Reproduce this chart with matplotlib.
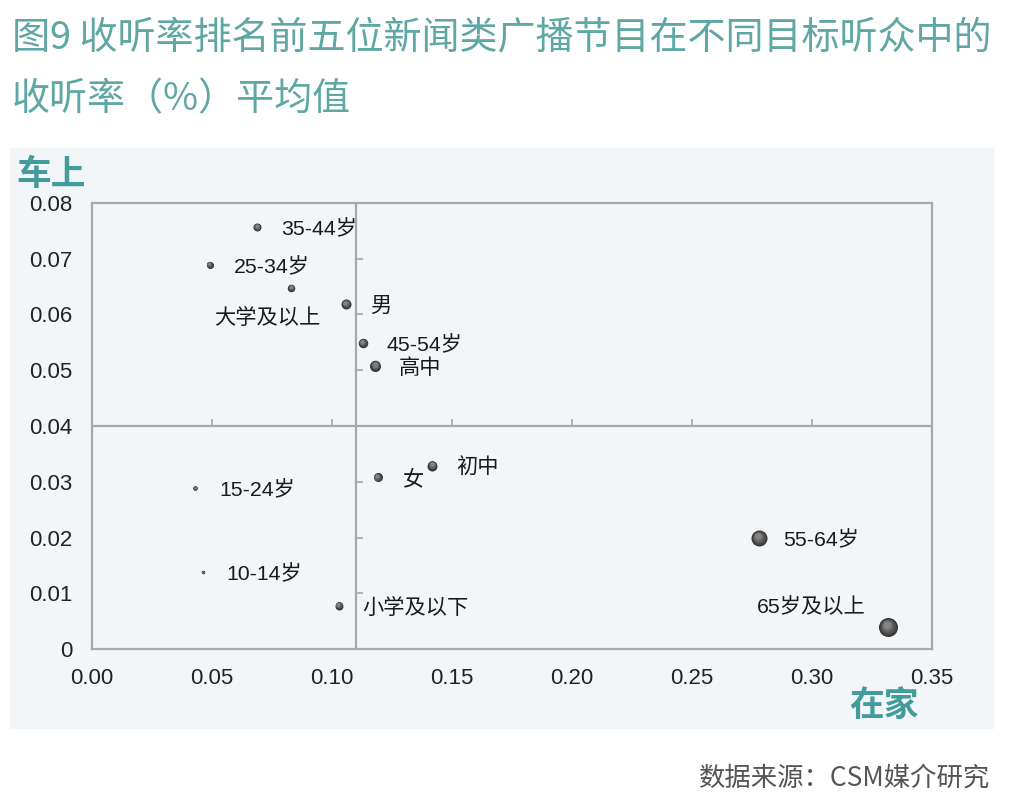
import numpy as np
import matplotlib.pyplot as plt
from matplotlib.patches import Rectangle
from matplotlib.transforms import offset_copy

plt.rcParams['font.family'] = ['Liberation Sans', 'Noto Sans CJK SC', 'DejaVu Sans']

# data
groups = ['35-44岁', '25-34岁', '大学及以上', '男', '45-54岁', '高中', '初中',
          '女', '15-24岁', '55-64岁', '10-14岁', '小学及以下', '65岁及以上']
home = [0.0688, 0.0490, 0.0829, 0.1058, 0.1128, 0.1180, 0.1418,
        0.1190, 0.0429, 0.2779, 0.0461, 0.1028, 0.3317]
car = [0.0757, 0.0689, 0.0648, 0.0619, 0.0549, 0.0508, 0.0329,
       0.0308, 0.0288, 0.0199, 0.0138, 0.0078, 0.0039]
bubble = [8, 7, 7.5, 10, 9.5, 11, 10, 9, 4.5, 16, 3.5, 8, 19]

xticks = [0.00, 0.05, 0.10, 0.15, 0.20, 0.25, 0.30, 0.35]
yticks = [0, 0.01, 0.02, 0.03, 0.04, 0.05, 0.06, 0.07, 0.08]
ylabels = ['0', '0.01', '0.02', '0.03', '0.04', '0.05', '0.06', '0.07', '0.08']
mid_x = 0.11
mid_y = 0.04

# label offsets in pixels (dx, dy, ha)
label_pos = {
    '大学及以上': (-24, -30, 'center'),
    '65岁及以上': (-22, 20, 'right'),
}

teal = '#5ea7a4'
teal_dark = '#429c9c'
panel = '#f3f6f9'
grey = '#a8a8a8'

fig = plt.figure(figsize=(10.12, 8.08), dpi=100)
fig.patches.append(Rectangle((10 / 1012, 80 / 808), 983 / 1012, 580 / 808,
                             transform=fig.transFigure, color=panel, zorder=-10))

ax = fig.add_axes([92 / 1012, 159 / 808, 840 / 1012, 446 / 808])
ax.set_zorder(1)
ax.set_facecolor(panel)
ax.set_xlim(0, 0.35)
ax.set_ylim(0, 0.08)
for s in ax.spines.values():
    s.set_color(grey)
    s.set_linewidth(1.6)

ax.set_xticks(xticks)
ax.set_xticklabels(['%.2f' % v for v in xticks])
ax.set_yticks(yticks)
ax.set_yticklabels(ylabels)
ax.tick_params(length=0, labelsize=16, labelcolor='#222222')
ax.tick_params(axis='y', pad=14)
ax.tick_params(axis='x', pad=14)

# quadrant lines with their own little ticks
ax.axvline(mid_x, color=grey, lw=1.6, zorder=1)
ax.axhline(mid_y, color=grey, lw=1.6, zorder=1)
ax.plot(xticks[1:-1], [mid_y] * len(xticks[1:-1]), ls='none', marker=2,
        ms=5, mew=1.2, color=grey, zorder=1)
ax.plot([mid_x] * len(yticks[1:-1]), yticks[1:-1], ls='none', marker=1,
        ms=5, mew=1.2, color=grey, zorder=1)

# shaded bubbles
layers = 6
for x, y, d in zip(home, car, bubble):
    for k in range(layers):
        f = 1 - k / layers * 0.75
        c = 0.20 + 0.32 * k / (layers - 1)
        off = (1 - f) * d * 0.22
        tr = offset_copy(ax.transData, fig=fig, x=-off * 0.4, y=off, units='dots')
        ax.scatter([x], [y], s=(d * f * 0.72) ** 2, color=(c, c, c),
                   linewidths=0, transform=tr, zorder=3 + k, clip_on=False)

for name, x, y in zip(groups, home, car):
    dx, dy, ha = label_pos.get(name, (24, -2, 'left'))
    ax.annotate(name, (x, y), xytext=(dx * 0.72, dy * 0.72),
                textcoords='offset points', ha=ha, va='center',
                fontsize=15.3, color='#1a1a1a', zorder=10)

# title, corner labels and source
fig.text(12 / 1012, 1 - 38 / 808, '图9 收听率排名前五位新闻类广播节目在不同目标听众中的',
         fontsize=27.4, color=teal, ha='left', va='center',
         family=['Noto Sans CJK SC', 'DejaVu Sans'], fontweight='light')
fig.text(12 / 1012, 1 - 100 / 808, '收听率（%）平均值',
         fontsize=27.4, color=teal, ha='left', va='center',
         family=['Noto Sans CJK SC', 'DejaVu Sans'], fontweight='light')
fig.text(51 / 1012, 1 - 175 / 808, '车上', fontsize=25, fontweight='bold',
         color=teal_dark, ha='center', va='center', family=['Noto Sans CJK SC'])
fig.text(884 / 1012, 1 - 705 / 808, '在家', fontsize=25, fontweight='bold',
         color=teal_dark, ha='center', va='center', family=['Noto Sans CJK SC'])
fig.text(990 / 1012, 1 - 778 / 808, '数据来源：CSM媒介研究', fontsize=19,
         color='#555555', ha='right', va='center',
         family=['Noto Sans CJK SC', 'DejaVu Sans'], fontweight='light')

fig.savefig('out.png', dpi=100)
